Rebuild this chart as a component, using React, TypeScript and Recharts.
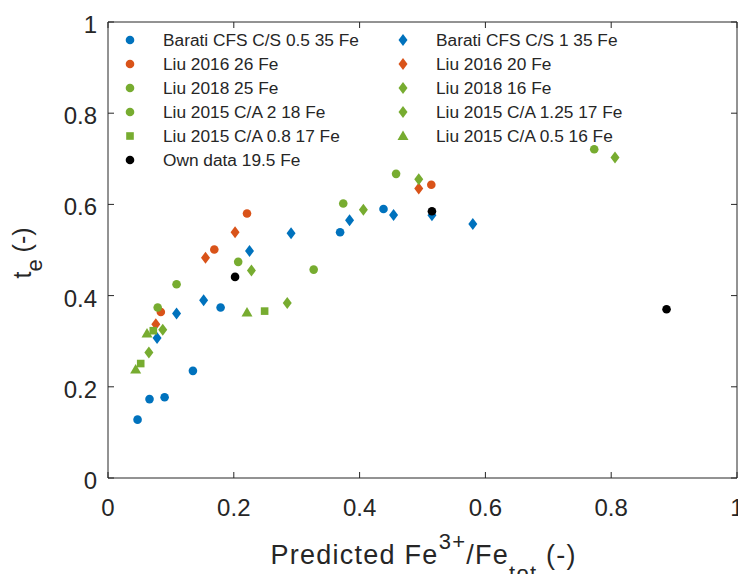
import React from 'react'
import { ScatterChart, Scatter, XAxis, YAxis, ReferenceLine, Legend } from 'recharts'

// t_e versus predicted Fe3+/Fetot, several literature sets + own data
type Pt = { x: number; y: number }

const baratiCS05: Pt[] = [
  { x: 0.047, y: 0.128 },
  { x: 0.066, y: 0.173 },
  { x: 0.09, y: 0.177 },
  { x: 0.135, y: 0.235 },
  { x: 0.179, y: 0.374 },
  { x: 0.369, y: 0.539 },
  { x: 0.438, y: 0.59 },
]
const baratiCS1: Pt[] = [
  { x: 0.078, y: 0.307 },
  { x: 0.109, y: 0.361 },
  { x: 0.152, y: 0.39 },
  { x: 0.225, y: 0.498 },
  { x: 0.291, y: 0.537 },
  { x: 0.384, y: 0.565 },
  { x: 0.454, y: 0.577 },
  { x: 0.515, y: 0.576 },
  { x: 0.58, y: 0.557 },
]
const liu2016Fe26: Pt[] = [
  { x: 0.084, y: 0.364 },
  { x: 0.169, y: 0.501 },
  { x: 0.221, y: 0.58 },
  { x: 0.514, y: 0.643 },
]
const liu2016Fe20: Pt[] = [
  { x: 0.076, y: 0.337 },
  { x: 0.155, y: 0.483 },
  { x: 0.202, y: 0.539 },
  { x: 0.494, y: 0.635 },
]
const liu2018Fe25: Pt[] = [
  { x: 0.207, y: 0.474 },
  { x: 0.374, y: 0.602 },
  { x: 0.458, y: 0.667 },
  { x: 0.773, y: 0.721 },
]
const liu2018Fe16: Pt[] = [
  { x: 0.228, y: 0.455 },
  { x: 0.406, y: 0.588 },
  { x: 0.494, y: 0.655 },
  { x: 0.806, y: 0.703 },
]
const liu2015CA2: Pt[] = [
  { x: 0.079, y: 0.374 },
  { x: 0.109, y: 0.425 },
  { x: 0.327, y: 0.457 },
]
const liu2015CA125: Pt[] = [
  { x: 0.065, y: 0.275 },
  { x: 0.087, y: 0.325 },
  { x: 0.285, y: 0.384 },
]
const liu2015CA08: Pt[] = [
  { x: 0.052, y: 0.251 },
  { x: 0.072, y: 0.323 },
  { x: 0.249, y: 0.366 },
]
const liu2015CA05: Pt[] = [
  { x: 0.044, y: 0.238 },
  { x: 0.062, y: 0.317 },
  { x: 0.221, y: 0.363 },
]
const ownData: Pt[] = [
  { x: 0.202, y: 0.441 },
  { x: 0.515, y: 0.585 },
  { x: 0.888, y: 0.37 },
]

const xTicks = [0, 0.2, 0.4, 0.6, 0.8, 1]
const yTicks = [0, 0.2, 0.4, 0.6, 0.8, 1]

const BLUE = '#0072BD'
const ORANGE = '#D95319'
const GREEN = '#77AC30'
const TEXT = '#262626'
const FONT = '"Liberation Sans", Arial, Helvetica, sans-serif'

type Marker = 'circle' | 'diamond' | 'square' | 'triangle'

const series: { name: string; data: Pt[]; color: string; marker: Marker }[] = [
  { name: 'Barati CFS C/S 0.5 35 Fe', data: baratiCS05, color: BLUE, marker: 'circle' },
  { name: 'Barati CFS C/S 1 35 Fe', data: baratiCS1, color: BLUE, marker: 'diamond' },
  { name: 'Liu 2016 26 Fe', data: liu2016Fe26, color: ORANGE, marker: 'circle' },
  { name: 'Liu 2016 20 Fe', data: liu2016Fe20, color: ORANGE, marker: 'diamond' },
  { name: 'Liu 2018 25 Fe', data: liu2018Fe25, color: GREEN, marker: 'circle' },
  { name: 'Liu 2018 16 Fe', data: liu2018Fe16, color: GREEN, marker: 'diamond' },
  { name: 'Liu 2015 C/A 2 18 Fe', data: liu2015CA2, color: GREEN, marker: 'circle' },
  { name: 'Liu 2015 C/A 1.25 17 Fe', data: liu2015CA125, color: GREEN, marker: 'diamond' },
  { name: 'Liu 2015 C/A 0.8 17 Fe', data: liu2015CA08, color: GREEN, marker: 'square' },
  { name: 'Liu 2015 C/A 0.5 16 Fe', data: liu2015CA05, color: GREEN, marker: 'triangle' },
  { name: 'Own data 19.5 Fe', data: ownData, color: '#000000', marker: 'circle' },
]

const PLOT_TOP = 22
const PLOT_LEFT = 108
const PLOT_RIGHT = 737
const PLOT_BOTTOM = 478

function drawMarker(marker: Marker, cx: number, cy: number, color: string) {
  switch (marker) {
    case 'diamond':
      return (
        <polygon
          points={`${cx},${cy - 6} ${cx + 4.5},${cy} ${cx},${cy + 6} ${cx - 4.5},${cy}`}
          fill={color}
        />
      )
    case 'square':
      return <rect x={cx - 3.8} y={cy - 3.8} width={7.6} height={7.6} fill={color} />
    case 'triangle':
      return (
        <polygon
          points={`${cx},${cy - 5.5} ${cx + 5.5},${cy + 4} ${cx - 5.5},${cy + 4}`}
          fill={color}
        />
      )
    default:
      return <circle cx={cx} cy={cy} r={4.3} fill={color} />
  }
}

const XTick = (props: any) => {
  const { x, y, payload } = props
  return (
    <g>
      <line x1={x} x2={x} y1={PLOT_BOTTOM} y2={PLOT_BOTTOM - 6} stroke={TEXT} />
      <line x1={x} x2={x} y1={PLOT_TOP} y2={PLOT_TOP + 6} stroke={TEXT} />
      <text x={x} y={y} dy={38} textAnchor="middle" fontSize={24} fill={TEXT} fontFamily={FONT}>
        {String(payload.value)}
      </text>
    </g>
  )
}

const YTick = (props: any) => {
  const { x, y, payload } = props
  return (
    <g>
      <line x1={PLOT_LEFT} x2={PLOT_LEFT + 6} y1={y} y2={y} stroke={TEXT} />
      <line x1={PLOT_RIGHT} x2={PLOT_RIGHT - 6} y1={y} y2={y} stroke={TEXT} />
      <text x={x} y={y} dx={-11} dy={11} textAnchor="end" fontSize={24} fill={TEXT} fontFamily={FONT}>
        {String(payload.value)}
      </text>
    </g>
  )
}

const XLabel = () => (
  <text
    x={423}
    y={564}
    textAnchor="middle"
    fontSize={27}
    fill={TEXT}
    fontFamily={FONT}
    textLength={305}
    lengthAdjust="spacing"
  >
    Predicted Fe
    <tspan fontSize={22} dy={-15}>3+</tspan>
    <tspan dy={15}>/Fe</tspan>
    <tspan fontSize={22} dy={17}>tot</tspan>
    <tspan dy={-17}> (-)</tspan>
  </text>
)

const YLabel = () => (
  <text
    x={31}
    y={253}
    transform="rotate(-90, 31, 253)"
    textAnchor="middle"
    fontSize={25}
    fill={TEXT}
    fontFamily={FONT}
  >
    t<tspan fontSize={22} dy={11}>e</tspan>
    <tspan dy={-11}> (-)</tspan>
  </text>
)

const renderLegend = () => (
  <div
    style={{
      display: 'grid',
      gridTemplateColumns: '45px 228px 45px auto',
      gridAutoRows: '24px',
      alignItems: 'center',
      fontFamily: FONT,
      fontSize: 17.3,
      color: TEXT,
      whiteSpace: 'nowrap',
    }}
  >
    {series.map((s) => (
      <React.Fragment key={s.name}>
        <svg width={24} height={24}>
          {drawMarker(s.marker, 12, 12, s.color)}
        </svg>
        <span>{s.name}</span>
      </React.Fragment>
    ))}
  </div>
)

export default function App() {
  return (
    <div style={{ position: 'absolute', left: 0, top: 0, width: 738, height: 574, background: '#fff' }}>
      <ScatterChart width={738} height={574} margin={{ top: 22, right: 1, left: 48, bottom: 36 }}>
        <XAxis
          type="number"
          dataKey="x"
          domain={[0, 1]}
          ticks={xTicks}
          height={60}
          tickSize={0}
          tickMargin={0}
          tickLine={false}
          axisLine={{ stroke: TEXT }}
          tick={<XTick />}
          interval={0}
          label={<XLabel />}
        />
        <YAxis
          type="number"
          dataKey="y"
          domain={[0, 1]}
          ticks={yTicks}
          width={60}
          tickSize={0}
          tickMargin={0}
          tickLine={false}
          axisLine={{ stroke: TEXT }}
          tick={<YTick />}
          interval={0}
          label={<YLabel />}
        />
        <ReferenceLine y={1} stroke={TEXT} />
        <ReferenceLine x={1} stroke={TEXT} />
        <Legend
          layout="horizontal"
          verticalAlign="middle"
          align="center"
          wrapperStyle={{ top: 28, left: 118, width: 'auto', height: 'auto' }}
          content={renderLegend}
        />
        {series.map((s) => (
          <Scatter
            key={s.name}
            name={s.name}
            data={s.data}
            fill={s.color}
            isAnimationActive={false}
            shape={(p: any) => drawMarker(s.marker, p.cx, p.cy, s.color)}
          />
        ))}
      </ScatterChart>
    </div>
  )
}
